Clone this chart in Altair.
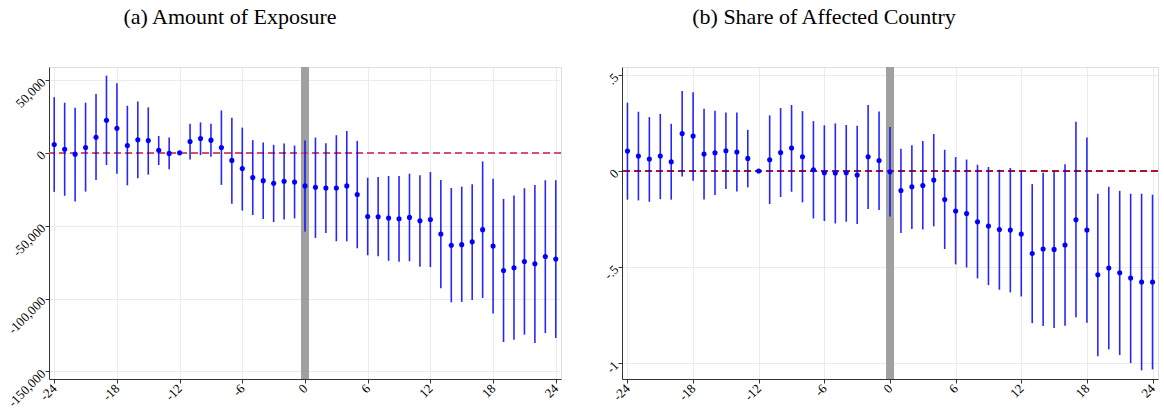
import altair as alt
import pandas as pd

months = list(range(-24, 25))

# Panel (a): Amount of Exposure
est_a = [5700, 2500, -900, 3700, 10700, 22300, 16800, 5000, 8900, 8400, 1800, -400, 0,
         7800, 9800, 8700, 3700, -5200, -10700, -17000, -19100, -20900, -19500, -20000,
         -22700, -23600, -24100, -24100, -22700, -28600, -43700, -43900, -44800, -45200,
         -44300, -46600, -45700, -55700, -63400, -63000, -61100, -52700, -63900, -80700,
         -78900, -74600, -76100, -71100, -72900]
hi_a = [38200, 34400, 31000, 34400, 40300, 53000, 47800, 32300, 35300, 31200, 11600, 10500, None,
        20000, 20900, 20000, 29100, 24100, 17300, 8700, 7100, 5500, 6400, 5000,
        8400, 10500, 6600, 12100, 15000, 8200, -17100, -16600, -15900, -15900,
        -14300, -15400, -13200, -18600, -24100, -23200, -21600, -5900, -17700, -31600,
        -29300, -24300, -22000, -18800, -18800]
lo_a = [-26800, -29500, -33400, -26600, -18600, -8400, -14300, -22300, -17500, -15000, -8400, -11300, None,
        -4500, -1600, -2700, -22000, -35000, -39600, -42700, -45400, -47500, -45700, -45000,
        -53900, -58400, -55000, -60700, -60700, -65500, -70300, -70900, -74100, -74800,
        -74400, -78200, -78400, -93000, -102600, -102300, -101000, -99600, -110200, -129800,
        -128200, -124800, -130500, -123700, -127100]

# Panel (b): Share of Affected Country
est_b = [0.104, 0.078, 0.0625, 0.078, 0.048, 0.196, 0.182, 0.0885, 0.095, 0.106, 0.099, 0.066, 0.0,
         0.059, 0.097, 0.12, 0.0745, 0.007, -0.009, -0.010, -0.009, -0.021, 0.0745, 0.055,
         -0.004, -0.101, -0.082, -0.075, -0.047, -0.148, -0.208, -0.221, -0.264, -0.286,
         -0.304, -0.307, -0.328, -0.429, -0.406, -0.408, -0.385, -0.254, -0.307, -0.540,
         -0.505, -0.530, -0.557, -0.578, -0.578]
hi_b = [0.356, 0.309, 0.281, 0.298, 0.246, 0.417, 0.411, 0.324, 0.314, 0.305, 0.305, 0.215, None,
        0.290, 0.328, 0.344, 0.312, 0.260, 0.238, 0.248, 0.240, 0.236, 0.344, 0.310,
        0.229, 0.116, 0.135, 0.156, 0.193, 0.111, 0.073, 0.060, 0.033, 0.021,
        0.007, 0.016, 0.002, -0.068, -0.009, 0.0, 0.035, 0.257, 0.175, -0.118,
        -0.082, -0.103, -0.118, -0.118, -0.123]
lo_b = [-0.149, -0.153, -0.160, -0.146, -0.149, -0.028, -0.051, -0.148, -0.125, -0.094, -0.106, -0.085, None,
        -0.172, -0.135, -0.108, -0.163, -0.247, -0.260, -0.273, -0.264, -0.276, -0.198, -0.203,
        -0.236, -0.323, -0.302, -0.304, -0.288, -0.406, -0.486, -0.502, -0.559, -0.594,
        -0.618, -0.632, -0.653, -0.792, -0.807, -0.818, -0.806, -0.762, -0.790, -0.964,
        -0.929, -0.958, -1.0, -1.038, -1.033]

x_ticks = [-24, -18, -12, -6, 0, 6, 12, 18, 24]
y_ticks_a = [50000, 0, -50000, -100000, -150000]
y_labels_a = ["50,000", "0", "-50,000", "-100,000", "-150,000"]
y_ticks_b = [0.5, 0, -0.5, -1]
y_labels_b = [".5", "0", "-.5", "-1"]

FONT = "Liberation Serif"


def label_expr(ticks, labels):
    expr = "''"
    for t, l in reversed(list(zip(ticks, labels))):
        expr = f"(abs(datum.value - ({t})) < 1e-9 ? '{l}' : {expr})"
    return expr


x_label_expr = "(datum.value < 0 ? '-' : '') + abs(datum.value)"


def panel(est, lo, hi, ydom, yticks, ylabels, title, width, dashcolor, title_dx):
    df = pd.DataFrame({"month": months, "est": est, "lo": lo, "hi": hi})
    xs = alt.Scale(domain=[-24.5, 24.5], nice=False, zero=False)
    ys = alt.Scale(domain=ydom, nice=False, zero=False)
    xax = alt.Axis(values=x_ticks, labelExpr=x_label_expr, title=None, grid=True,
                   gridColor="#ebebeb", domainColor="#333333", tickColor="#333333",
                   tickSize=4, labelAngle=-45, labelAlign="right", labelBaseline="middle",
                   labelFont=FONT, labelFontSize=13, labelColor="black", labelPadding=3)
    yax = alt.Axis(values=yticks, labelExpr=label_expr(yticks, ylabels), title=None, grid=True,
                   gridColor="#ebebeb", domainColor="#333333", tickColor="#333333",
                   tickSize=4, labelAngle=-45, labelAlign="right", labelBaseline="middle",
                   labelFont=FONT, labelFontSize=13, labelColor="black", labelPadding=2)
    base = alt.Chart(df)
    band = base.mark_rule(color="#a0a0a0", strokeWidth=8).encode(
        x=alt.datum(0, scale=xs, axis=xax)
    )
    zero = base.mark_rule(color=dashcolor, strokeDash=[7, 4], strokeWidth=1.4).encode(
        y=alt.datum(0, scale=ys, axis=yax)
    )
    bars = base.mark_rule(color="#0000ff", strokeWidth=1.6, opacity=0.85).encode(
        x=alt.X("month:Q", scale=xs, axis=xax),
        y=alt.Y("lo:Q", scale=ys, axis=yax),
        y2="hi:Q",
    ).transform_filter("isValid(datum.lo)")
    pts = base.mark_circle(color="#0000ff", size=26, opacity=1).encode(
        x=alt.X("month:Q", scale=xs, axis=xax),
        y=alt.Y("est:Q", scale=ys, axis=yax),
    )
    return alt.layer(band, zero, bars, pts).properties(
        width=width, height=312,
        title=alt.TitleParams(title, font=FONT, fontSize=22, fontWeight="normal",
                              color="black", anchor="middle", dx=title_dx,
                              frame="group", offset=17, baseline="alphabetic"),
    )


left = panel(est_a, lo_a, hi_a, [-155200, 58900], y_ticks_a, y_labels_a,
             "(a) Amount of Exposure", 512, "#d6506e", -75)
right = panel(est_b, lo_b, hi_b, [-1.083, 0.542], y_ticks_b, y_labels_b,
              "(b) Share of Affected Country", 536, "#b0102a", -66)

chart = alt.hconcat(left, right, spacing=38).properties(
    padding={"left": 5, "top": 5, "right": 0, "bottom": 0}
).configure_view(stroke=None).configure(background="white")

chart.save("out.html", embed_options={"renderer": "svg", "actions": False})
